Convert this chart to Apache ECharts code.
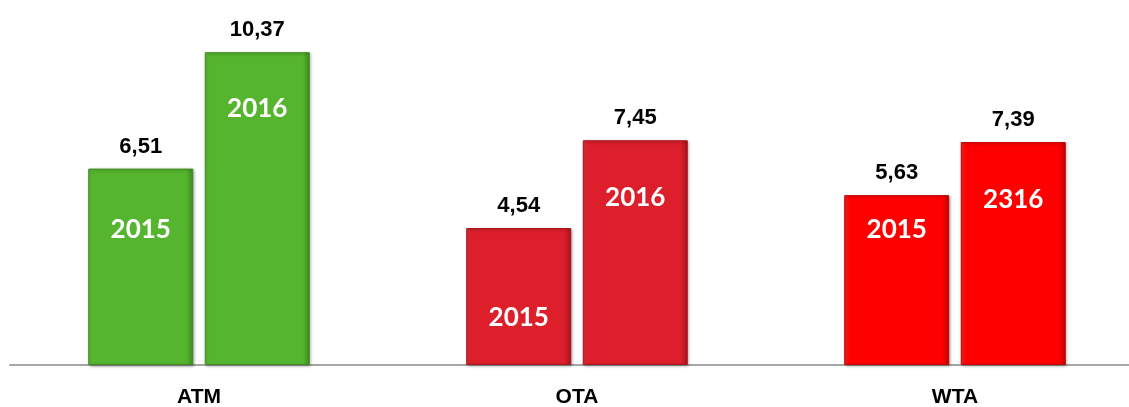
<!DOCTYPE html>
<html lang="en">
<head>
    <meta charset="UTF-8">
    <title>ATM / OTA / WTA</title>
    <style>
        html, body { margin: 0; padding: 0; background: #fff; }
        #chart { width: 1129px; height: 407px; }
    </style>
    <script src="https://cdn.jsdelivr.net/npm/echarts@6/dist/echarts.min.js"></script>
</head>
<body>
    <div id="chart"></div>
<script>
    // data
    var categories = ['ATM', 'OTA', 'WTA'];
    var values2015 = [6.51, 4.54, 5.63];
    var values2016 = [10.37, 7.45, 7.39];
    var yearText2015 = ['2015', '2015', '2015'];
    var yearText2016 = ['2016', '2016', '2316'];

    // styles
    var barColors = [
        ['#63c03a', '#56b52f', '#3f8d1f'],
        ['#e43440', '#dc1f2b', '#a8141d'],
        ['#ff2a2a', '#ff0000', '#c40000']
    ];
    var innerDrop2015 = [61, 90, 34];   // label centre below bar top
    var innerDrop2016 = [56, 57, 58];
    var narrowFont = "'Liberation Sans Narrow', 'Arial Narrow', 'Liberation Sans', Arial, sans-serif";

    function barFill(i) {
        var c = barColors[i];
        return {
            type: 'linear', x: 0, y: 0, x2: 1, y2: 0,
            colorStops: [
                { offset: 0, color: c[0] },
                { offset: 0.05, color: c[1] },
                { offset: 0.93, color: c[1] },
                { offset: 1, color: c[2] }
            ]
        };
    }

    function mainData(values) {
        return values.map(function (v, i) {
            return {
                value: v,
                itemStyle: {
                    color: barFill(i),
                    borderColor: barColors[i][2],
                    borderWidth: 1,
                    shadowColor: 'rgba(0,0,0,0.35)',
                    shadowBlur: 3,
                    shadowOffsetX: 1,
                    shadowOffsetY: 1
                }
            };
        });
    }

    function innerData(values, texts, drops) {
        return values.map(function (v, i) {
            return {
                value: v,
                label: { formatter: texts[i], distance: drops[i] - 14 }
            };
        });
    }

    var valueLabel = {
        show: true,
        position: 'top',
        distance: 11,
        color: '#000',
        fontFamily: narrowFont,
        fontWeight: 'bold',
        fontSize: 22,
        formatter: function (p) {
            return p.value.toFixed(2).replace('.', ',');
        }
    };

    var innerLabel = {
        show: true,
        position: 'insideTop',
        color: '#fff',
        fontFamily: 'Lato, "Open Sans", sans-serif',
        fontWeight: 'bold',
        fontSize: 26,
        lineHeight: 28
    };

    var chart = echarts.init(document.getElementById('chart'));
    chart.setOption({
        animation: false,
        grid: { left: 10, width: 1134, top: 3, height: 362, outerBoundsMode: 'none', containLabel: false },
        xAxis: [{
            type: 'category',
            data: categories,
            axisLine: { lineStyle: { color: '#a6a6a6', width: 2 } },
            axisTick: { show: false },
            axisLabel: {
                color: '#000',
                fontFamily: narrowFont,
                fontWeight: 'bold',
                fontSize: 21,
                margin: 22
            }
        }, {
            type: 'category',
            data: categories,
            show: false
        }],
        yAxis: {
            type: 'value',
            min: 0,
            max: 12,
            show: false,
            splitLine: { show: false }
        },
        series: [{
            name: '2015',
            type: 'bar',
            barWidth: 105,
            barGap: '11%',
            data: mainData(values2015),
            label: valueLabel
        }, {
            name: '2016',
            type: 'bar',
            barWidth: 105,
            barGap: '11%',
            data: mainData(values2016),
            label: valueLabel
        }, {
            name: '2015 text',
            type: 'bar',
            xAxisIndex: 1,
            barWidth: 105,
            barGap: '11%',
            itemStyle: { color: 'rgba(0,0,0,0)' },
            data: innerData(values2015, yearText2015, innerDrop2015),
            label: innerLabel,
            silent: true
        }, {
            name: '2016 text',
            type: 'bar',
            xAxisIndex: 1,
            barWidth: 105,
            barGap: '11%',
            itemStyle: { color: 'rgba(0,0,0,0)' },
            data: innerData(values2016, yearText2016, innerDrop2016),
            label: innerLabel,
            silent: true
        }]
    });
</script>
</body>
</html>
